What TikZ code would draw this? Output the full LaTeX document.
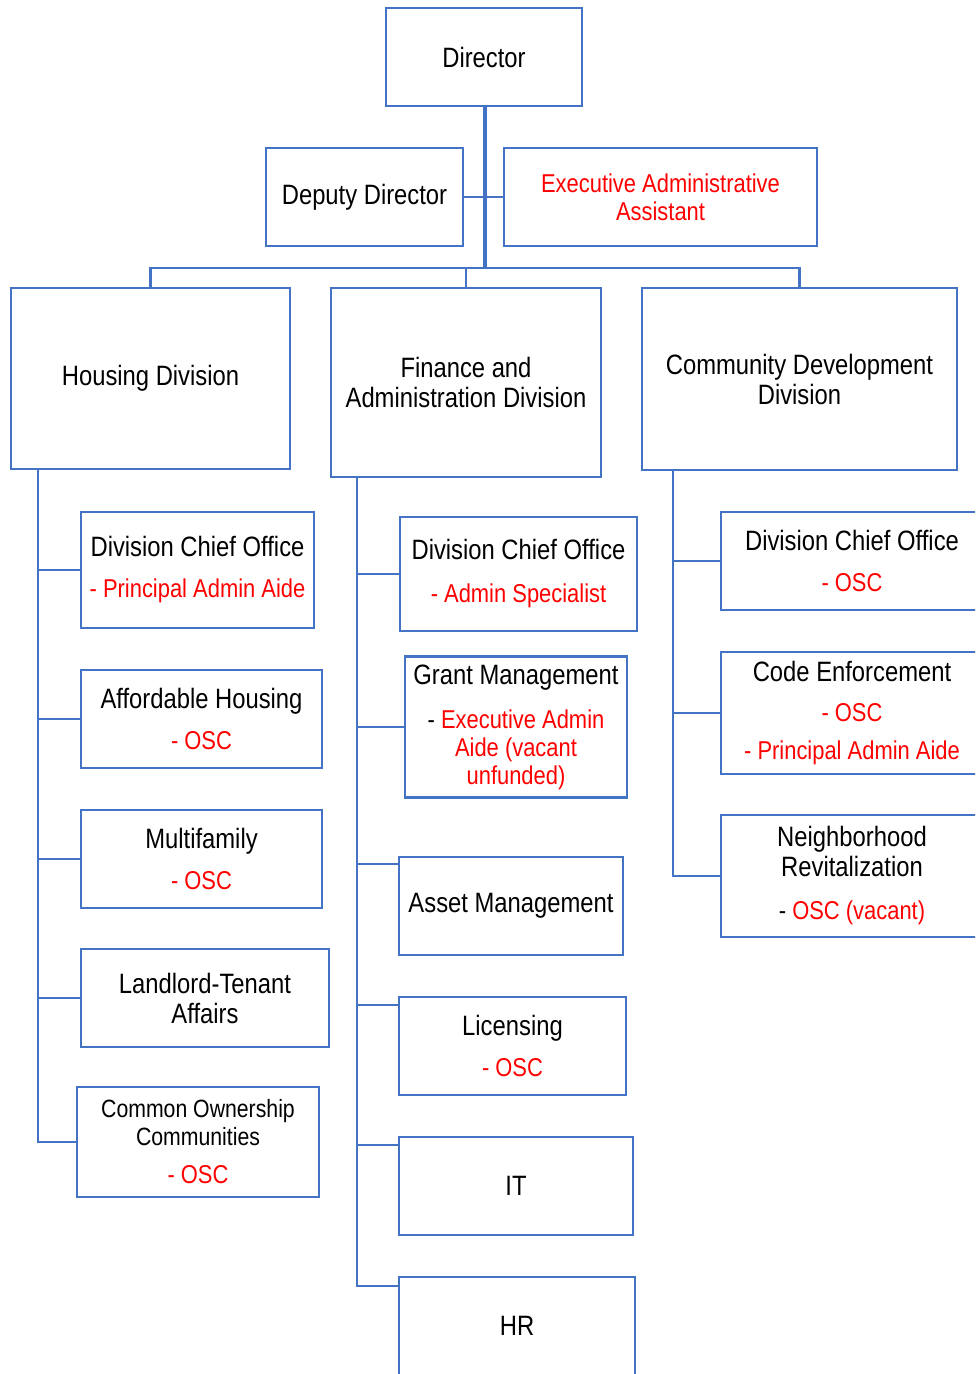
\documentclass[tikz,border=0pt]{standalone}
\usepackage{fontspec}
\newfontfamily\chartfont{Liberation Sans}[FakeStretch=0.85]
\usetikzlibrary{calc}
\definecolor{orgblue}{HTML}{4472C4}
\definecolor{orgred}{HTML}{FF0000}
% position lines are set a little smaller than the unit names
\newcommand{\sm}[1]{{\fontsize{25.8}{30}\selectfont #1}}
\newcommand{\rd}[1]{\sm{\textcolor{orgred}{#1}}}
\begin{document}
\begin{tikzpicture}[x=1pt,y=-1pt,
  box/.style={draw=orgblue, line width=2.5pt, fill=white, inner sep=0pt,
    align=center, font=\chartfont\fontsize{28}{30}\selectfont},
  link/.style={draw=orgblue, line width=2.5pt},
  trunk/.style={draw=orgblue, line width=4.5pt},
  sz/.style n args={2}{minimum width=#1pt, minimum height=#2pt}]
\useasboundingbox (0,0) rectangle (975,1374);
\clip (0,0) rectangle (975,1374);
\fill[white] (0,0) rectangle (975,1374);

% top level
\node[box, sz={196}{98}] (dir) at (484,57) {Director};
\node[box, sz={197}{98}] (dep) at (364.5,197) {Deputy Director};
\node[box, sz={313}{98}] (exa) at (660.5,197) {\rd{Executive Administrative}\\[-2pt]\rd{Assistant}};

% divisions
\node[box, sz={279}{181}] (hous) at (150.5,378.5) {Housing Division};
\node[box, sz={270}{189}] (fin) at (466,382.5) {Finance and\\Administration Division};
\node[box, sz={315}{182}] (comm) at (799.5,379) {Community Development\\Division};

% housing units
\node[box, sz={233}{116}] (hdco) at (197.5,570) {Division Chief Office\\[11pt]\rd{- Principal Admin Aide}};
\node[box, sz={241}{98}] (aff) at (201.5,719) {Affordable Housing\\[11pt]\rd{- OSC}};
\node[box, sz={241}{98}] (multi) at (201.5,859) {Multifamily\\[11pt]\rd{- OSC}};
\node[box, sz={248}{98}] (lta) at (205,998) {Landlord-Tenant\\Affairs};
\node[box, sz={242}{110}, font=\chartfont\fontsize{25}{28}\selectfont] (coc) at (198,1142) {Common Ownership\\Communities\\[10pt]\rd{- OSC}};

% finance units
\node[box, sz={237}{114}] (fdco) at (518.5,574) {Division Chief Office\\[13pt]\rd{- Admin Specialist}};
\node[box, sz={222}{141}] (grant) at (516,727) {Grant Management\\[14pt]\sm{- \textcolor{orgred}{Executive Admin}}\\[-2pt]\rd{Aide (vacant}\\[-2pt]\rd{unfunded)}};
\node[box, sz={224}{98}] (asset) at (511,906) {Asset Management};
\node[box, sz={227}{98}] (lic) at (512.5,1046) {Licensing\\[11pt]\rd{- OSC}};
\node[box, sz={234}{98}] (it) at (516,1186) {IT};
\node[box, sz={236}{98}] (hr) at (517,1326) {HR};

% community development units
\node[box, sz={262}{98}] (cdco) at (852,561) {Division Chief Office\\[11pt]\rd{- OSC}};
\node[box, sz={262}{122}] (code) at (852,713) {Code Enforcement\\[10pt]\rd{- OSC}\\[8pt]\rd{- Principal Admin Aide}};
\node[box, sz={262}{122}] (nbr) at (852,876) {Neighborhood\\Revitalization\\[13pt]\sm{- \textcolor{orgred}{OSC (vacant)}}};

% spine coordinates
\coordinate (bus) at (485,268);
\coordinate (hsp) at ($(hous.south west)+(28,0)$);
\coordinate (fsp) at ($(fin.south west)+(27,0)$);
\coordinate (csp) at ($(comm.south west)+(32,0)$);

% director to divisions
\draw[link, line width=2pt] (dep.east) -- (exa.west);
\draw[trunk] (dir.south -| bus) -- (bus);
\draw[link] (hous.north) |- (bus) -| (comm.north);
\draw[link] (fin.north) -- (fin.north |- bus);

% housing branch
\draw[link] (hsp) |- (hdco.west);
\draw[link] (hsp) |- (aff.west);
\draw[link] (hsp) |- (multi.west);
\draw[link] (hsp) |- (lta.west);
\draw[link] (hsp) |- (coc.west);

% finance branch
\draw[link] (fsp) |- (fdco.west);
\draw[link] (fsp) |- (grant.west);
\draw[link] (fsp) |- ($(asset.north west)+(0,8)$);
\draw[link] (fsp) |- ($(lic.north west)+(0,9)$);
\draw[link] (fsp) |- ($(it.north west)+(0,9)$);
\draw[link] (fsp) |- ($(hr.north west)+(0,10)$);

% community development branch
\draw[link] (csp) |- (cdco.west);
\draw[link] (csp) |- (code.west);
\draw[link] (csp) |- (nbr.west);
\end{tikzpicture}
\end{document}
